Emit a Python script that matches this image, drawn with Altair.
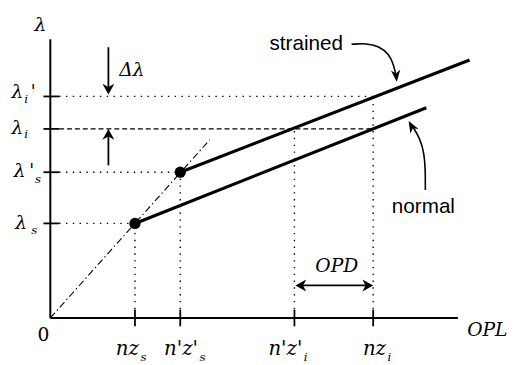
import altair as alt
import pandas as pd

# ---------------- values (x: optical path length OPL, y: wavelength λ, arbitrary units) ----------------
opl_names = ["nz", "n'z'", "n'z'", "nz"]
opl_subs = ["s", "s", "i", "i"]
opl_ticks = [8.6, 13.2, 24.8, 32.8]            # nz_s, n'z'_s, n'z'_i, nz_i
opl_label_x = [9.0, 15.0, 25.6, 34.1]          # right edge of each tick label

lam_names = ["λ", "λ", "λ", "λ"]
lam_subs = ["i", "i", "s", "s"]
lam_ticks = [22.5, 19.2, 14.8, 9.6]            # λ_i', λ_i, λ'_s, λ_s
lam_label_x = [-2.75, -2.75, -2.5, -2.35]
lam_label_y = [22.3, 18.7, 14.3, 9.0]
lam_sub_x = [-2.65, -2.65, -1.55, -1.95]
lam_sub_y = [21.8, 18.3, 13.7, 8.5]
lam_prime_x = [-2.0, -2.15]
lam_prime_y = [22.3, 14.3]

normal_x = [8.6, 38.2]
normal_y = [9.6, 21.35]
strained_x = [13.2, 42.6]
strained_y = [14.8, 26.2]
dispersion_x = [0.0, 16.2]
dispersion_y = [0.0, 18.1]
start_x = [8.6, 13.2]
start_y = [9.6, 14.8]

axis_x_max = 41.4
axis_y_max = 28.3

h_guide_y = [22.5, 19.2, 14.8, 9.6]
h_guide_xend = [32.8, 32.8, 13.2, 8.6]
h_guide_style = ["dot", "dash", "dot", "dot"]
v_guide_x = [8.6, 13.2, 24.8, 32.8]
v_guide_yend = [9.6, 14.8, 19.2, 22.5]

delta_x = 5.9
delta_down = [27.5, 23.2]
delta_up = [15.5, 18.7]
opd_y = 3.3
opd_x = [25.3, 32.4]

straight_heads_x = [5.9, 5.9, 24.9, 32.8]
straight_heads_y = [22.7, 19.2, 3.3, 3.3]
straight_heads_angle = [0, 180, 90, 270]

strained_curve_x = [30.6, 32.1, 33.4, 34.4, 34.9, 35.15]
strained_curve_y = [27.8, 27.9, 27.6, 26.8, 25.7, 24.4]
normal_curve_x = [38.1, 38.1, 38.0, 37.6, 36.7]
normal_curve_y = [13.0, 15.0, 16.6, 18.2, 19.6]
curve_heads_x = [35.2, 36.4]
curve_heads_y = [24.0, 20.0]
curve_heads_angle = [354, 150]

# ---------------- scales ----------------
XS = alt.Scale(domain=[-4.3, 46.7], nice=False, zero=False)
YS = alt.Scale(domain=[-4.5, 31.2], nice=False, zero=False)


def X(f="x"):
    return alt.X(f"{f}:Q", scale=XS, axis=None)


def Y(f="y"):
    return alt.Y(f"{f}:Q", scale=YS, axis=None)


def rules(df, **kw):
    return alt.Chart(df).mark_rule(color="black", **kw).encode(
        x=X("x"), x2=alt.X2("x2"), y=Y("y"), y2=alt.Y2("y2"))


layers = []

# axes
axes_df = pd.DataFrame({"x": [0, 0], "x2": [axis_x_max, 0], "y": [0, 0], "y2": [0, axis_y_max]})
layers.append(rules(axes_df, strokeWidth=2))

# ticks
ytick_df = pd.DataFrame({"x": [-0.7] * 4, "x2": [0.9] * 4, "y": lam_ticks, "y2": lam_ticks})
xtick_df = pd.DataFrame({"x": opl_ticks, "x2": opl_ticks, "y": [-0.85] * 4, "y2": [0.85] * 4})
layers.append(rules(ytick_df, strokeWidth=1.8))
layers.append(rules(xtick_df, strokeWidth=1.8))

# guides
hg = pd.DataFrame({"x": [0.9] * 4, "x2": h_guide_xend, "y": h_guide_y, "y2": h_guide_y, "s": h_guide_style})
layers.append(rules(hg[hg.s == "dot"], strokeWidth=1.4, strokeDash=[1.4, 5.5]))
layers.append(rules(hg[hg.s == "dash"], strokeWidth=1.3, strokeDash=[5, 3]))
vg = pd.DataFrame({"x": v_guide_x, "x2": v_guide_x, "y": [0.9] * 4, "y2": v_guide_yend})
layers.append(rules(vg, strokeWidth=1.4, strokeDash=[1.4, 5.5]))

# dispersion line through origin
disp_df = pd.DataFrame({"x": [dispersion_x[0]], "x2": [dispersion_x[1]], "y": [dispersion_y[0]], "y2": [dispersion_y[1]]})
layers.append(rules(disp_df, strokeWidth=1.1, strokeDash=[7, 3, 1.5, 3]))

# normal and strained lines
main_df = pd.DataFrame({"x": [normal_x[0], strained_x[0]], "x2": [normal_x[1], strained_x[1]],
                        "y": [normal_y[0], strained_y[0]], "y2": [normal_y[1], strained_y[1]]})
layers.append(rules(main_df, strokeWidth=3.2))

# start points
pts = pd.DataFrame({"x": start_x, "y": start_y})
layers.append(alt.Chart(pts).mark_circle(color="black", size=130, opacity=1).encode(x=X(), y=Y()))

# straight arrows (shafts)
shaft_df = pd.DataFrame({"x": [delta_x, delta_x, opd_x[0]], "x2": [delta_x, delta_x, opd_x[1]],
                         "y": [delta_down[0], delta_up[0], opd_y], "y2": [delta_down[1], delta_up[1], opd_y]})
layers.append(rules(shaft_df, strokeWidth=1.8))

HEAD = "M0,0 L-0.55,-1 L0,-0.7 L0.55,-1 Z"
NARROW = "M0,0 L-0.4,-1 L0,-0.7 L0.4,-1 Z"
sh = pd.DataFrame({"x": straight_heads_x, "y": straight_heads_y, "a": straight_heads_angle})
layers.append(alt.Chart(sh).mark_point(shape=HEAD, filled=True, color="black", size=484, opacity=1,
                                       strokeWidth=0).encode(
    x=X(), y=Y(), angle=alt.Angle("a:Q", scale=None)))

# curved pointer arrows
sc = pd.DataFrame({"x": strained_curve_x, "y": strained_curve_y, "o": range(len(strained_curve_x))})
nc = pd.DataFrame({"x": normal_curve_x, "y": normal_curve_y, "o": range(len(normal_curve_x))})
for d in (sc, nc):
    layers.append(alt.Chart(d).mark_line(color="black", strokeWidth=1.6, interpolate="basis").encode(
        x=X(), y=Y(), order="o:Q"))
ch = pd.DataFrame({"x": curve_heads_x, "y": curve_heads_y, "a": curve_heads_angle})
layers.append(alt.Chart(ch).mark_point(shape=NARROW, filled=True, color="black", size=576, opacity=1,
                                       strokeWidth=0).encode(
    x=X(), y=Y(), angle=alt.Angle("a:Q", scale=None)))

SERIF = "DejaVu Serif"
SANS = "Liberation Sans"

# free text labels (centered)
center_df = pd.DataFrame({"x": [-1.0, 8.3, 29.1, 44.4], "y": [29.7, 25.2, 5.3, -1.2],
                          "t": ["λ", "Δλ", "OPD", "OPL"]})
layers.append(alt.Chart(center_df).mark_text(font=SERIF, fontStyle="italic", fontSize=19, baseline="middle",
                                             align="center", color="black").encode(x=X(), y=Y(), text="t:N"))
zero_df = pd.DataFrame({"x": [-0.7], "y": [-1.7], "t": ["0"]})
layers.append(alt.Chart(zero_df).mark_text(font=SERIF, fontSize=19, baseline="middle", align="center",
                                           color="black").encode(x=X(), y=Y(), text="t:N"))

# x tick labels
xl = pd.DataFrame({"x": opl_label_x, "y": [-3.8] * 4, "t": opl_names})
layers.append(alt.Chart(xl).mark_text(font=SERIF, fontStyle="italic", fontSize=20, baseline="alphabetic",
                                      align="right", color="black").encode(x=X(), y=Y(), text="t:N"))
xs_ = pd.DataFrame({"x": [v + 0.15 for v in opl_label_x], "y": [-4.35] * 4, "t": opl_subs})
layers.append(alt.Chart(xs_).mark_text(font=SERIF, fontStyle="italic", fontSize=12, baseline="alphabetic",
                                       align="left", color="black").encode(x=X(), y=Y(), text="t:N"))

# y tick labels
yl = pd.DataFrame({"x": lam_label_x, "y": lam_label_y, "t": lam_names})
layers.append(alt.Chart(yl).mark_text(font=SERIF, fontStyle="italic", fontSize=19, baseline="alphabetic",
                                      align="right", color="black").encode(x=X(), y=Y(), text="t:N"))
ys_ = pd.DataFrame({"x": lam_sub_x, "y": lam_sub_y, "t": lam_subs})
layers.append(alt.Chart(ys_).mark_text(font=SERIF, fontStyle="italic", fontSize=12, baseline="alphabetic",
                                       align="left", color="black").encode(x=X(), y=Y(), text="t:N"))
yp = pd.DataFrame({"x": lam_prime_x, "y": lam_prime_y, "t": ["'", "'"]})
layers.append(alt.Chart(yp).mark_text(font=SERIF, fontSize=18, baseline="alphabetic",
                                      align="left", color="black").encode(x=X(), y=Y(), text="t:N"))

# series names
names_df = pd.DataFrame({"x": [26.0, 37.9], "y": [27.2, 10.7], "t": ["strained", "normal"]})
layers.append(alt.Chart(names_df).mark_text(font=SANS, fontSize=21, baseline="alphabetic", align="center",
                                            color="black").encode(x=X(), y=Y(), text="t:N"))

chart = alt.layer(*layers).properties(
    width=510, height=357, padding=0, autosize=alt.AutoSizeParams(type="none"),
    background="white",
).configure_view(stroke=None)

chart.save("out.html", embed_options={"renderer": "svg", "actions": False})
